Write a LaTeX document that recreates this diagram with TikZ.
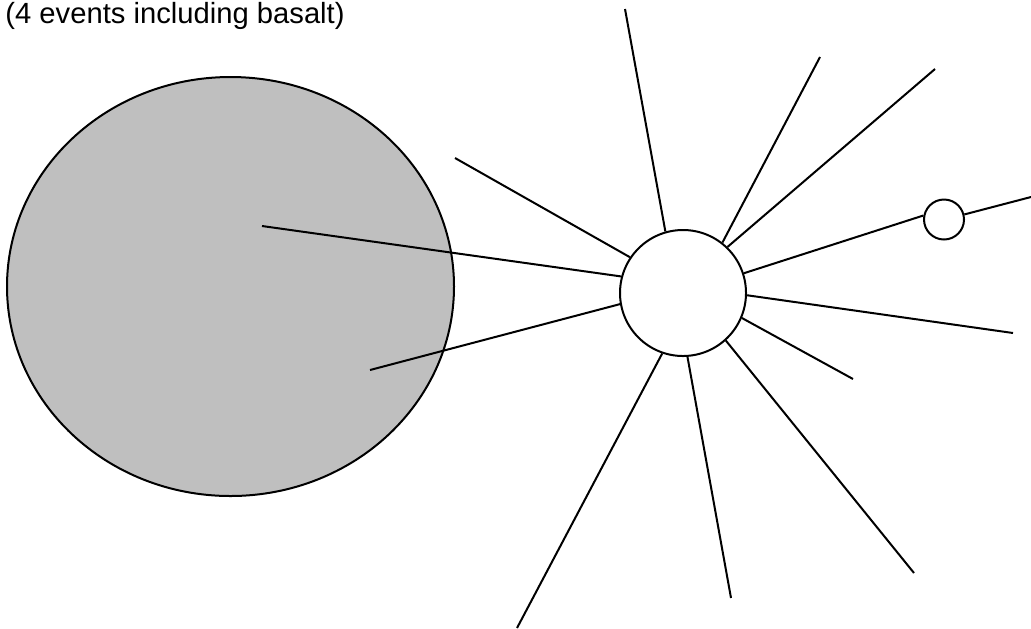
\documentclass[tikz,border=0pt]{standalone}
\usepackage{fontspec}
\setmainfont{Liberation Sans}
\usetikzlibrary{positioning}
\definecolor{basaltgray}{RGB}{191,191,191}
\tikzset{
  vent/.style={circle, draw, fill=white, line width=1pt, inner sep=0pt},
  dyke/.style={line width=1pt},
}
\begin{document}
\begin{tikzpicture}[x=0.5pt, y=-0.5pt]
  \useasboundingbox (0,0) rectangle (1031,628);
  \draw[line width=1pt, fill=basaltgray] (230.5,286.5) ellipse [x radius=223.5, y radius=209.5];
  \node[anchor=base west, inner sep=0pt, font=\fontsize{14.6pt}{17pt}\selectfont] (title) at (5,23) {(4 events including basalt)};
  \node[vent, minimum size=63pt] (hub) at (683,293) {};
  \node[vent, minimum size=20pt] (sat) at (944,219.5) {};
  \coordinate (e1) at (625,9);
  \coordinate (e2) at (820,57);
  \coordinate (e3) at (935,69);
  \coordinate (e5) at (1013,333);
  \coordinate (e6) at (853,379);
  \coordinate (e7) at (914,573);
  \coordinate (e8) at (731,598);
  \coordinate (e9) at (517,628);
  \coordinate (e10) at (370,370);
  \coordinate (e11) at (262,226);
  \coordinate (e12) at (455,158);
  \coordinate (e13) at (1031,197);
  \foreach \a/\e in {106.7/e1, 52.8/e2, 46.0/e3, -2.4/e5, -23.6/e6, -48.2/e7,
                     -86/e8, 251.4/e9, 190.9/e10, 165.3/e11, 146/e12}
    \draw[dyke] (hub.\a) -- (\e);
  \draw[dyke] (hub.18.9) -- (sat.169.1);
  \draw[dyke] (sat.14.4) -- (e13);
\end{tikzpicture}
\end{document}
